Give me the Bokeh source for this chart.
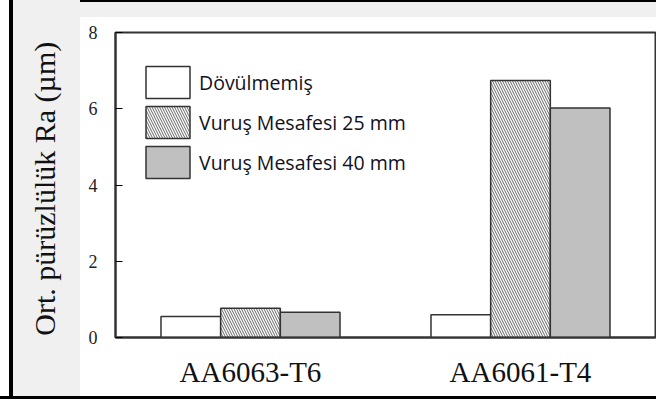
from bokeh.plotting import figure
from bokeh.models import FactorRange, Range1d, FixedTicker, Legend, LegendItem, ColumnDataSource
from bokeh.transform import dodge
from bokeh.embed import file_html
from bokeh.resources import INLINE

categories = ["AA6063-T6", "AA6061-T4"]
dovulmemis = [0.55, 0.60]
vurus_25 = [0.77, 6.74]
vurus_40 = [0.66, 6.02]
series_labels = ["Dövülmemiş", "Vuruş Mesafesi 25 mm", "Vuruş Mesafesi 40 mm"]
y_ticks = [0, 2, 4, 6, 8]
y_label = "Ort. pürüzlülük Ra  (µm)"

src = ColumnDataSource(dict(cat=categories, d=dovulmemis, v25=vurus_25, v40=vurus_40))

p = figure(
    x_range=FactorRange(*categories, range_padding=0),
    y_range=Range1d(0, 8),
    width=656, height=399,
    output_backend="svg", toolbar_location=None,
    min_border_left=115, min_border_right=1, min_border_top=32, min_border_bottom=62,
)
p.styles = {
    "background": (
        "linear-gradient(to bottom, transparent 396px, black 396px), "
        "linear-gradient(to right, white 9px, black 9px, black 13px, #f0f0f0 13px, #f0f0f0 80px, transparent 80px), "
        "linear-gradient(to bottom, black 2px, #f0f0f0 2px, #f0f0f0 17px, white 17px)"
    ),
}
p.border_fill_alpha = 0
p.background_fill_color = "white"
p.outline_line_color = "#333333"
p.outline_line_width = 2
p.xgrid.visible = False
p.ygrid.visible = False

bw = 0.221
line_col = "#333333"
r1 = p.vbar(x=dodge("cat", -bw, range=p.x_range), top="d", width=bw, source=src,
            fill_color="white", line_color=line_col, line_width=1.5)
r2 = p.vbar(x=dodge("cat", 0, range=p.x_range), top="v25", width=bw, source=src,
            fill_color="white", line_color=line_col, line_width=1.5,
            hatch_pattern="\\", hatch_color="#666666", hatch_scale=5, hatch_weight=1)
r3 = p.vbar(x=dodge("cat", bw, range=p.x_range), top="v40", width=bw, source=src,
            fill_color="#c0c0c0", line_color=line_col, line_width=1.5)

legend = Legend(items=[LegendItem(label=series_labels[0], renderers=[r1]),
                       LegendItem(label=series_labels[1], renderers=[r2]),
                       LegendItem(label=series_labels[2], renderers=[r3])],
                location=(25, 155))
legend.padding = 0
legend.margin = 0
legend.spacing = 0
legend.glyph_width = 55
legend.glyph_height = 40
legend.label_height = 40
legend.label_standoff = 4
legend.border_line_alpha = 0
legend.background_fill_alpha = 0
legend.label_text_font = "Open Sans"
legend.label_text_font_size = "19.5px"
legend.label_text_color = "#111122"
p.add_layout(legend)

p.yaxis.ticker = FixedTicker(ticks=y_ticks)
p.yaxis.major_tick_in = 7
p.yaxis.major_tick_out = 0
p.yaxis.minor_tick_line_color = None
p.yaxis.major_label_standoff = 18
p.yaxis.major_label_text_font = "Liberation Serif"
p.yaxis.major_label_text_font_size = "18px"
p.yaxis.major_label_text_color = "#222222"
p.yaxis.axis_label = y_label
p.yaxis.axis_label_text_font = "Liberation Serif"
p.yaxis.axis_label_text_font_size = "30px"
p.yaxis.axis_label_text_font_style = "normal"
p.yaxis.axis_label_text_color = "#111111"
p.yaxis.axis_label_standoff = 25

p.xaxis.major_tick_in = 0
p.xaxis.major_tick_out = 0
p.xaxis.major_label_standoff = 18
p.xaxis.major_label_text_font = "Liberation Serif"
p.xaxis.major_label_text_font_size = "29px"
p.xaxis.major_label_text_color = "#111111"

for ax in (p.xaxis[0], p.yaxis[0]):
    ax.axis_line_color = "#333333"
    ax.axis_line_width = 2

open("out.html", "w").write(file_html(p, INLINE))
